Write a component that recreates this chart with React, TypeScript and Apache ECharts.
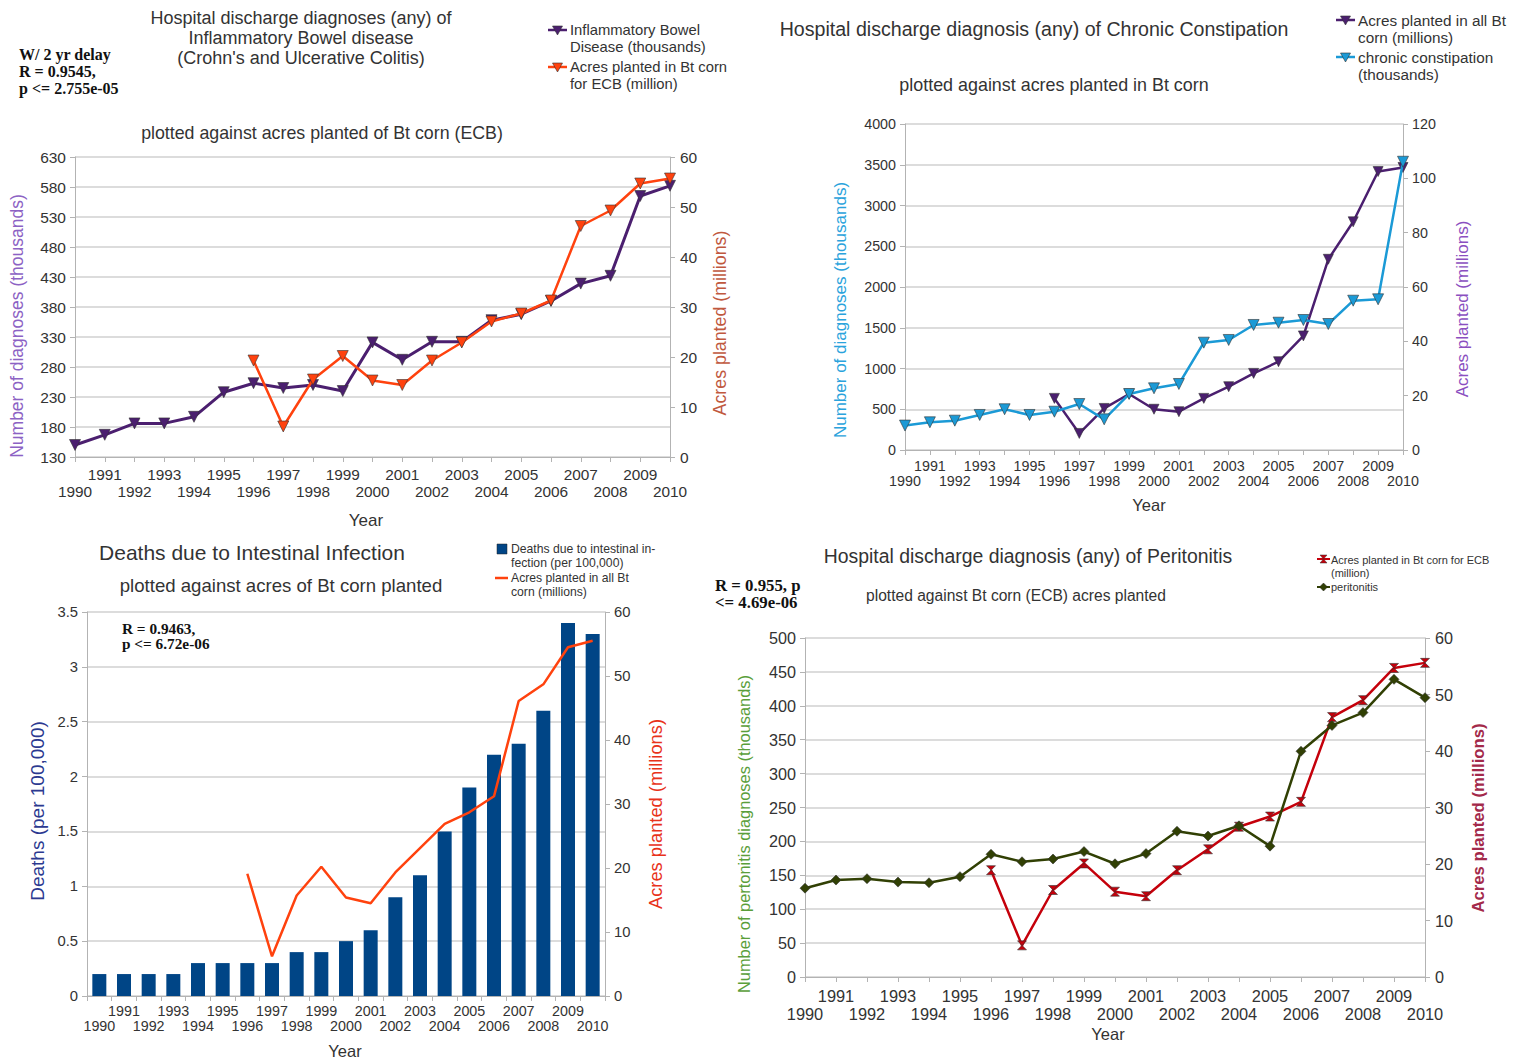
import React, { useEffect, useRef } from "react";
import * as echarts from "echarts";

const years = ["1990","1991","1992","1993","1994","1995","1996","1997","1998","1999","2000","2001","2002","2003","2004","2005","2006","2007","2008","2009","2010"];

// Panel 1: IBD vs acres of Bt corn (ECB)
const ibdThousands = [150,167,186,186,197,238,253,245,250,240,321,292,322,322,358,368,390,419,432,565,582];
const btEcbAcresP1 = [null,null,null,null,null,null,19.3,6.1,15.5,20.2,15.3,14.4,19.3,22.9,27.1,28.7,31.3,46.2,49.3,54.7,55.7];

// Panel 2: chronic constipation vs acres of all Bt corn
const constipationThousands = [300,340,360,430,500,430,470,564,376,687,757,810,1317,1350,1534,1562,1595,1546,1832,1849,3537];
const allBtAcresP2 = [null,null,null,null,null,null,19.0,6.1,15.3,20.6,15.0,14.1,19.0,23.3,28.2,32.5,42.0,70.2,84.0,102.5,104.0];

// Panel 3: deaths due to intestinal infection vs acres of Bt corn
const deathsPer100k = [0.2,0.2,0.2,0.2,0.3,0.3,0.3,0.3,0.4,0.4,0.5,0.6,0.9,1.1,1.5,1.9,2.2,2.3,2.6,3.4,3.3];
const allBtAcresP3 = [null,null,null,null,null,null,19.1,6.2,15.7,20.2,15.4,14.5,19.3,23.1,26.9,28.7,31.2,46.1,48.7,54.5,55.5];

// Panel 4: peritonitis vs acres of Bt corn (ECB)
const peritonitisThousands = [131,143,145,140,139,148,181,170,174,185,167,182,215,208,223,193,333,371,390,439,412];
const btEcbAcresP4 = [null,null,null,null,null,null,18.9,5.6,15.4,20.1,15.1,14.3,18.9,22.6,26.6,28.4,31.0,46.0,49.0,54.7,55.6];

const SANS = "'Liberation Sans', Arial, sans-serif";
const SERIF = "'Liberation Serif', 'Times New Roman', serif";

const PURPLE = "#4b1f6f";
const ORANGE = "#ff420e";
const BLUE = "#1b9ad6";
const NAVY = "#004586";
const DKGREEN = "#314004";
const RED = "#c5000b";
const AXIS = "#b3b3b3";
const GRID = "#d0d0d0";
const HOURGLASS = "path://M0,0L10,0L0,10L10,10Z";

function txt(text: string, x: number, y: number, o: any = {}) {
  return {
    type: "text",
    x,
    y,
    rotation: o.rotation || 0,
    silent: true,
    style: {
      text,
      fill: o.fill || "#333",
      font: `${o.weight || "normal"} ${o.size || 14}px ${o.family || SANS}`,
      textAlign: o.align || "left",
      textVerticalAlign: o.valign || "middle",
      lineHeight: o.lh,
    },
  };
}

function vname(text: string, x: number, y: number, fill: string, size: number, weight = "normal") {
  return txt(text, x, y, { rotation: Math.PI / 2, fill, size, align: "center", valign: "middle", weight });
}

function triDown(cx: number, cy: number, fill: string, r = 5) {
  return {
    type: "polygon",
    silent: true,
    shape: { points: [[cx - r, cy - r * 0.8], [cx + r, cy - r * 0.8], [cx, cy + r]] },
    style: { fill, stroke: "#333", lineWidth: 0.6 },
  };
}

function legLine(x1: number, x2: number, y: number, stroke: string, w = 2.5) {
  return { type: "line", silent: true, shape: { x1, y1: y, x2, y2: y }, style: { stroke, lineWidth: w } };
}

function xAxisCfg(gridIndex: number, boundaryGap: boolean, fontSize: number, margin: number, lineHeight: number) {
  return {
    type: "category",
    gridIndex,
    data: years,
    boundaryGap,
    axisLine: { show: true, lineStyle: { color: AXIS, width: 1 } },
    axisTick: { show: true, interval: 0, length: 5, lineStyle: { color: AXIS } },
    axisLabel: {
      interval: 0,
      hideOverlap: false,
      color: "#333",
      fontSize,
      fontFamily: SANS,
      margin,
      lineHeight,
      formatter: (v: string, i: number) => (i % 2 === 0 ? "\n" + v : v),
    },
    splitLine: { show: false },
  };
}

function yAxisCfg(gridIndex: number, position: string, min: number, max: number, interval: number, fontSize: number, margin: number, grid: boolean) {
  return {
    type: "value",
    gridIndex,
    position,
    min,
    max,
    interval,
    axisLine: { show: true, lineStyle: { color: AXIS, width: 1 } },
    axisTick: { show: true, length: 5, lineStyle: { color: AXIS } },
    axisLabel: { color: "#333", fontSize, fontFamily: SANS, margin, formatter: (v: number) => String(v) },
    splitLine: { show: grid, lineStyle: { color: GRID, width: 1.5 } },
  };
}

function lineSeries(name: string, data: any[], xi: number, yi: number, color: string, symbol: string, opts: any = {}) {
  return {
    type: "line",
    name,
    data,
    xAxisIndex: xi,
    yAxisIndex: yi,
    symbol,
    symbolSize: opts.symbolSize || 10,
    symbolRotate: opts.rotate || 0,
    symbolKeepAspect: true,
    showSymbol: symbol !== "none",
    color,
    lineStyle: { color, width: opts.width || 2.5 },
    itemStyle: { color, borderColor: opts.border || "#333", borderWidth: 0.6 },
    emphasis: { disabled: true },
    z: opts.z || 2,
  };
}

export default function App() {
  const ref = useRef<HTMLDivElement>(null);

  useEffect(() => {
    if (!ref.current) return;
    const chart = echarts.init(ref.current, null, { renderer: "svg" });

    const graphics: any[] = [
      // Panel 1
      txt("Hospital discharge diagnoses (any) of\nInflammatory Bowel disease\n(Crohn's and Ulcerative Colitis)", 301, 8, { size: 18, align: "center", valign: "top", lh: 20 }),
      txt("W/ 2 yr delay\nR = 0.9545,\np <= 2.755e-05", 19, 46, { size: 16, weight: "bold", family: SERIF, valign: "top", lh: 17, fill: "#111" }),
      legLine(548, 567, 30, PURPLE),
      triDown(557.5, 30, PURPLE),
      txt("Inflammatory Bowel\nDisease (thousands)", 570, 21, { size: 14.8, valign: "top", lh: 17 }),
      legLine(548, 567, 67, ORANGE),
      triDown(557.5, 67, ORANGE),
      txt("Acres planted in Bt corn\nfor ECB (million)", 570, 58, { size: 14.8, valign: "top", lh: 17 }),
      txt("plotted against acres planted of Bt corn (ECB)", 322, 133, { size: 17.8, align: "center" }),
      vname("Number of diagnoses (thousands)", 17, 326, "#8c62c4", 17.5),
      vname("Acres planted (millions)", 720, 323, "#c0583e", 17.8),
      txt("Year", 366, 520, { size: 17, align: "center" }),

      // Panel 2
      txt("Hospital discharge diagnosis (any) of Chronic Constipation", 1034, 29, { size: 19.6, align: "center" }),
      legLine(1336, 1355, 20, PURPLE),
      triDown(1345.5, 20, PURPLE),
      txt("Acres planted in all Bt\ncorn (millions)", 1358, 11.5, { size: 15.3, valign: "top", lh: 17 }),
      legLine(1336, 1355, 57, BLUE),
      triDown(1345.5, 57, BLUE),
      txt("chronic constipation\n(thousands)", 1358, 48.5, { size: 15.3, valign: "top", lh: 17 }),
      txt("plotted against acres planted in Bt corn", 1054, 85, { size: 17.9, align: "center" }),
      vname("Number of diagnoses (thousands)", 840, 310, "#2aa3dc", 17),
      vname("Acres planted (millions)", 1462, 309, "#8a4fc0", 17),
      txt("Year", 1149, 505, { size: 16.5, align: "center" }),

      // Panel 3
      txt("Deaths due to Intestinal Infection", 252, 552, { size: 21, align: "center" }),
      txt("plotted against acres of Bt corn planted", 281, 585, { size: 18.6, align: "center" }),
      { type: "rect", silent: true, shape: { x: 497, y: 544, width: 10, height: 10 }, style: { fill: NAVY, stroke: "#222", lineWidth: 0.5 } },
      txt("Deaths due to intestinal in-\nfection (per 100,000)", 511, 542, { size: 12.2, valign: "top", lh: 14 }),
      legLine(495, 508, 578, ORANGE, 2.5),
      txt("Acres planted in all Bt\ncorn (millions)", 511, 571, { size: 12.2, valign: "top", lh: 14 }),
      txt("R = 0.9463,\np <= 6.72e-06", 122, 621, { size: 15.3, weight: "bold", family: SERIF, valign: "top", lh: 15, fill: "#111" }),
      vname("Deaths (per 100,000)", 37, 811, "#2b3990", 19),
      vname("Acres planted (millions)", 655, 814, "#e8321a", 18.3),
      txt("Year", 345, 1051, { size: 16.5, align: "center" }),

      // Panel 4
      txt("Hospital discharge diagnosis (any) of Peritonitis", 1028, 556, { size: 19.4, align: "center" }),
      txt("plotted against Bt corn (ECB) acres planted", 1016, 595, { size: 15.6, align: "center" }),
      txt("R = 0.955, p\n<= 4.69e-06", 715, 577, { size: 16.8, weight: "bold", family: SERIF, valign: "top", lh: 17, fill: "#111" }),
      legLine(1317, 1330, 559, RED, 2),
      { type: "polygon", silent: true, shape: { points: [[1320, 555], [1327, 555], [1320, 563], [1327, 563]] }, style: { fill: RED, stroke: "#333", lineWidth: 0.5 } },
      txt("Acres planted in Bt corn for ECB\n(million)", 1331, 553, { size: 11, valign: "top", lh: 13 }),
      legLine(1317, 1330, 587, DKGREEN, 2),
      { type: "polygon", silent: true, shape: { points: [[1323.5, 583], [1327.5, 587], [1323.5, 591], [1319.5, 587]] }, style: { fill: DKGREEN, stroke: "#222", lineWidth: 0.5 } },
      txt("peritonitis", 1331, 587, { size: 11 }),
      vname("Number of pertonitis diagnoses (thousands)", 744, 834, "#5a9e3a", 16.4),
      vname("Acres planted (millions)", 1478, 818, "#a3294a", 16.7, "bold"),
      txt("Year", 1108, 1034, { size: 16.5, align: "center" }),
    ];

    chart.setOption({
      animation: false,
      backgroundColor: "#ffffff",
      textStyle: { fontFamily: SANS },
      grid: [
        { left: 75, top: 157, width: 595, height: 300, containLabel: false, outerBoundsMode: "none" },
        { left: 905, top: 124, width: 498, height: 326, containLabel: false, outerBoundsMode: "none" },
        { left: 87, top: 612, width: 518, height: 384, containLabel: false, outerBoundsMode: "none" },
        { left: 805, top: 638, width: 620, height: 339, containLabel: false, outerBoundsMode: "none" },
      ],
      xAxis: [
        xAxisCfg(0, false, 15.4, 9, 17),
        xAxisCfg(1, false, 14.3, 8, 15),
        xAxisCfg(2, true, 14.3, 7, 15),
        xAxisCfg(3, false, 16.4, 10, 18),
      ],
      yAxis: [
        yAxisCfg(0, "left", 130, 630, 50, 15.5, 9, true),
        yAxisCfg(0, "right", 0, 60, 10, 15.5, 10, false),
        yAxisCfg(1, "left", 0, 4000, 500, 14.3, 9, true),
        yAxisCfg(1, "right", 0, 120, 20, 14.3, 9, false),
        yAxisCfg(2, "left", 0, 3.5, 0.5, 14.8, 9, true),
        yAxisCfg(2, "right", 0, 60, 10, 14.8, 9, false),
        yAxisCfg(3, "left", 0, 500, 50, 16.2, 9, true),
        yAxisCfg(3, "right", 0, 60, 10, 16.2, 10, false),
      ],
      series: [
        lineSeries("Inflammatory Bowel Disease (thousands)", ibdThousands, 0, 0, PURPLE, "triangle", { rotate: 180, symbolSize: 11, width: 3 }),
        lineSeries("Acres planted in Bt corn for ECB (million)", btEcbAcresP1, 0, 1, ORANGE, "triangle", { rotate: 180, symbolSize: 11, width: 2.5, z: 3 }),
        lineSeries("Acres planted in all Bt corn (millions)", allBtAcresP2, 1, 3, PURPLE, "triangle", { rotate: 180, symbolSize: 10, width: 2.5 }),
        lineSeries("chronic constipation (thousands)", constipationThousands, 1, 2, BLUE, "triangle", { rotate: 180, symbolSize: 11, width: 2.5, z: 3 }),
        {
          type: "bar",
          name: "Deaths due to intestinal infection (per 100,000)",
          data: deathsPer100k,
          xAxisIndex: 2,
          yAxisIndex: 4,
          barWidth: 14,
          itemStyle: { color: NAVY },
          emphasis: { disabled: true },
        },
        lineSeries("Acres planted in all Bt corn (millions)", allBtAcresP3, 2, 5, ORANGE, "none", { width: 2.5, z: 3 }),
        lineSeries("Acres planted in Bt corn for ECB (million)", btEcbAcresP4, 3, 7, RED, HOURGLASS, { symbolSize: 9, width: 2.5 }),
        lineSeries("peritonitis", peritonitisThousands, 3, 6, DKGREEN, "diamond", { symbolSize: 10, width: 2.5, z: 3 }),
      ],
      graphic: graphics,
    });

    return () => chart.dispose();
  }, []);

  return (
    <div
      ref={ref}
      style={{ position: "absolute", left: 0, top: 0, width: 1514, height: 1061, background: "#fff" }}
    />
  );
}
